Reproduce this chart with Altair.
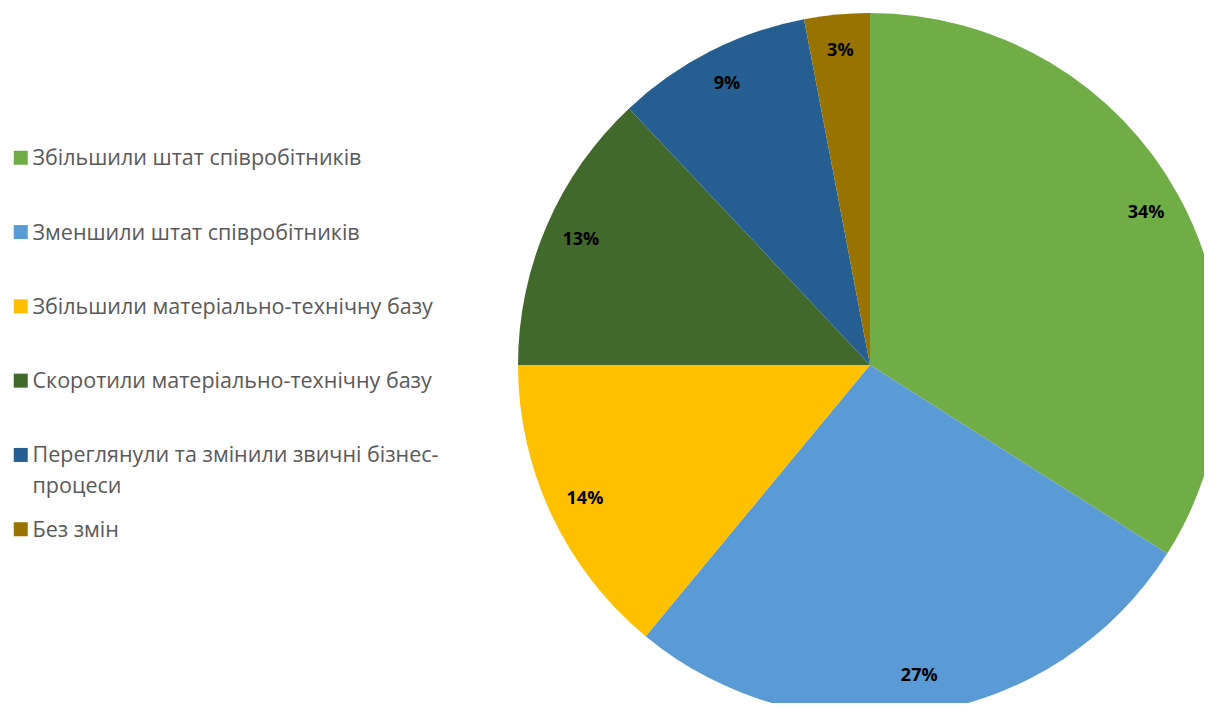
import altair as alt
import pandas as pd

categories = [
    "Збільшили штат співробітників",
    "Зменшили штат співробітників",
    "Збільшили матеріально-технічну базу",
    "Скоротили матеріально-технічну базу",
    "Переглянули та змінили звичні бізнес-процеси",
    "Без змін",
]
values = [34, 27, 14, 13, 9, 3]
colors = ["#70AD47", "#5B9BD5", "#FFC000", "#43682B", "#255E91", "#997300"]

df = pd.DataFrame({
    "category": categories,
    "value": values,
    "order": list(range(len(categories))),
    "label": [f"{v}%" for v in values],
})

label_expr = (
    "indexof(datum.label, 'бізнес-') >= 0 ? "
    "[slice(datum.label, 0, indexof(datum.label, 'бізнес-') + 7), "
    "slice(datum.label, indexof(datum.label, 'бізнес-') + 7)] : datum.label"
)

theta = alt.Theta("value:Q", stack=True)
order = alt.Order("order:Q")

pie = alt.Chart(df).mark_arc(outerRadius=352, stroke=None).encode(
    theta=theta,
    order=order,
    x=alt.value(862),
    y=alt.value(357),
    color=alt.Color(
        "category:N",
        scale=alt.Scale(domain=categories, range=colors),
        sort=categories,
        legend=alt.Legend(
            title=None,
            orient="none",
            legendX=2,
            legendY=139,
            symbolType="square",
            symbolSize=196,
            symbolStrokeWidth=0,
            labelFont="Open Sans",
            labelFontSize=21.5,
            labelColor="#595959",
            labelLimit=0,
            labelOffset=1,
            labelBaseline="alphabetic",
            labelExpr=label_expr,
            gridAlign="all",
            rowPadding=20.3,
        ),
    ),
)

text = alt.Chart(df).mark_text(
    radius=315, font="Open Sans", fontSize=18, fontWeight="bold", color="#000000"
).encode(
    theta=theta,
    order=order,
    detail="category:N",
    x=alt.value(862),
    y=alt.value(357),
    text="label:N",
)

chart = (
    alt.layer(pie, text)
    .properties(width=1196, height=695, padding=0, autosize=alt.AutoSizeParams(type="none"))
    .configure_view(stroke=None, strokeWidth=0)
    .configure(style={
        "guide-label": {"dy": 7.5, "lineHeight": 31},
        "cell": {"stroke": "transparent", "strokeWidth": 0},
    })
)

chart.save("out.html", embed_options={"renderer": "svg", "actions": False})
